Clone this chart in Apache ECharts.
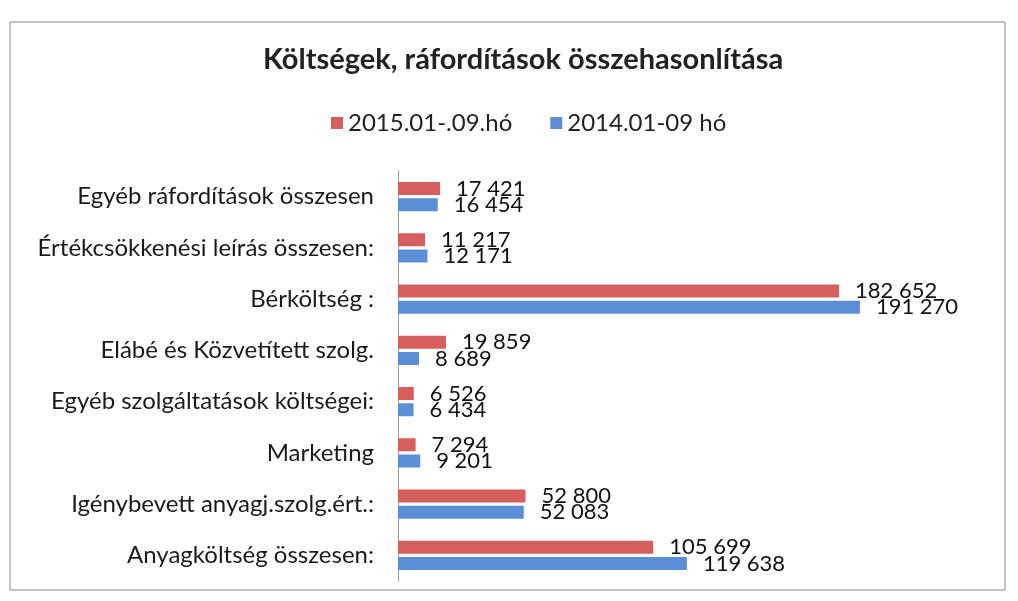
<!DOCTYPE html>
<html>
<head>
<meta charset="utf-8">
<script src="https://cdn.jsdelivr.net/npm/echarts@6/dist/echarts.min.js"></script>
<style>
  html, body { margin: 0; padding: 0; background: #fff; }
  #chart { width: 1018px; height: 601px; }
</style>
</head>
<body>
<div id="chart"></div>
<script>
const categories = [
  'Egyéb ráfordítások összesen',
  'Értékcsökkenési leírás összesen:',
  'Bérköltség :',
  'Elábé és Közvetített szolg.',
  'Egyéb szolgáltatások költségei:',
  'Marketing',
  'Igénybevett anyagj.szolg.ért.:',
  'Anyagköltség összesen:'
]
const values2015 = [17421, 11217, 182652, 19859, 6526, 7294, 52800, 105699]
const values2014 = [16454, 12171, 191270, 8689, 6434, 9201, 52083, 119638]

const fontFamily = 'Lato, "Open Sans", sans-serif'

function fmt(v) {
  return String(v).replace(/\B(?=(\d{3})+(?!\d))/g, ' ')
}

const chart = echarts.init(document.getElementById('chart'))
chart.setOption({
  animation: false,
  textStyle: { fontFamily: fontFamily },
  title: {
    text: 'Költségek, ráfordítások összehasonlítása',
    left: 258,
    top: 40,
    textStyle: { fontSize: 29, fontWeight: 'bold', color: '#222', fontFamily: fontFamily }
  },
  legend: {
    top: 106,
    left: 326,
    itemWidth: 12,
    itemHeight: 12,
    itemGap: 38,
    icon: 'rect',
    textStyle: { fontSize: 24, color: '#222', fontFamily: fontFamily }
  },
  graphic: [{
    type: 'rect',
    shape: { x: 10, y: 22, width: 995, height: 568 },
    style: { fill: 'none', stroke: '#888', lineWidth: 1 },
    silent: true
  }],
  grid: {
    left: 398,
    width: 483,
    top: 171,
    height: 410
  },
  xAxis: {
    type: 'value',
    min: 0,
    max: 200000,
    show: false
  },
  yAxis: {
    type: 'category',
    data: categories,
    inverse: true,
    axisLine: { show: true, lineStyle: { color: '#999', width: 1 } },
    axisTick: { show: false },
    axisLabel: { fontSize: 24, color: '#1a1a1a', margin: 24, fontFamily: fontFamily }
  },
  series: [
    {
      name: '2015.01-.09.hó',
      type: 'bar',
      data: values2015,
      barWidth: 13,
      barGap: '25%',
      itemStyle: { color: '#d65f5d' },
      label: {
        show: true,
        position: 'right',
        distance: 16,
        fontSize: 22,
        color: '#111',
        formatter: p => fmt(p.value)
      }
    },
    {
      name: '2014.01-09 hó',
      type: 'bar',
      data: values2014,
      barWidth: 13,
      itemStyle: { color: '#5a8fd8' },
      label: {
        show: true,
        position: 'right',
        distance: 16,
        fontSize: 22,
        color: '#111',
        formatter: p => fmt(p.value)
      }
    }
  ]
})
</script>
</body>
</html>
